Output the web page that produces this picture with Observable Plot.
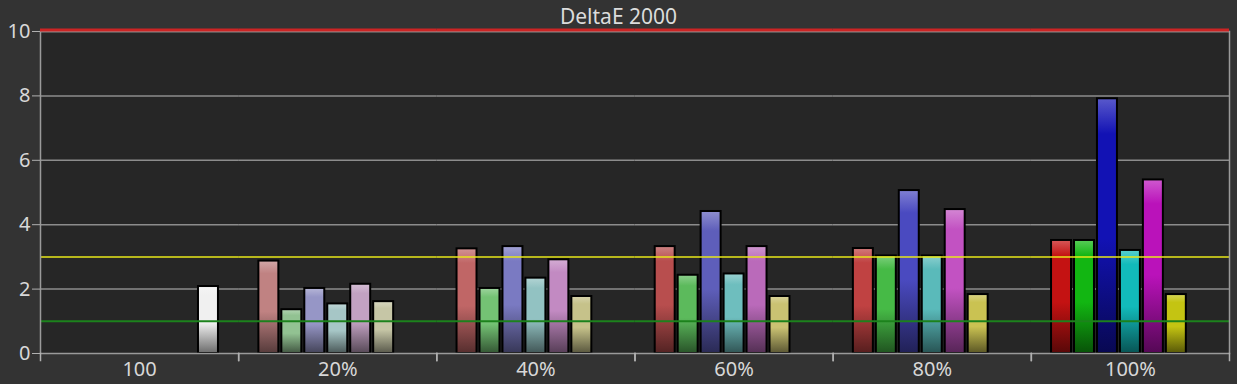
<!DOCTYPE html>
<html>
<head>
<meta charset="utf-8">
<script src="https://cdn.jsdelivr.net/npm/d3@7"></script>
<script src="https://cdn.jsdelivr.net/npm/@observablehq/plot@0.6"></script>
<style>
  html, body { margin: 0; padding: 0; background: #333333; }
  #wrap { position: relative; width: 1237px; height: 384px; }
  #title { position: absolute; left: 0; top: 0; width: 1237px; height: 32px; line-height: 32px;
           text-align: center; color: #dcdcdc; z-index: 2;
           font-family: "Noto Sans", "Open Sans", sans-serif; font-size: 21px; }
  #chart svg { display: block; }
</style>
</head>
<body>
<div id="wrap">
<div id="title">DeltaE 2000</div>
<div id="chart"></div>
</div>
<script>
// ---- data ----
const groups = ["100", "20%", "40%", "60%", "80%", "100%"];
const seriesNames = ["Red", "Green", "Blue", "Cyan", "Magenta", "Yellow", "White"];
const redValues     = [null, 2.87, 3.25, 3.32, 3.26, 3.51];
const greenValues   = [null, 1.36, 2.02, 2.43, 3.03, 3.51];
const blueValues    = [null, 2.02, 3.32, 4.41, 5.06, 7.91];
const cyanValues    = [null, 1.54, 2.34, 2.47, 3.03, 3.20];
const magentaValues = [null, 2.15, 2.91, 3.32, 4.47, 5.39];
const yellowValues  = [null, 1.61, 1.77, 1.77, 1.83, 1.83];
const whiteValues   = [2.08, null, null, null, null, null];
const yTicks = [0, 2, 4, 6, 8, 10];
const thresholds = { max: 10, warn: 3, good: 1 };

// ---- palette (base colour of each bar, per group) ----
const redColors     = [null, "#c08282", "#c06666", "#b84e4e", "#c04242", "#c41212"];
const greenColors   = [null, "#92c292", "#74c274", "#5cba5c", "#46ba46", "#12b612"];
const blueColors    = [null, "#9696c6", "#7a7ac2", "#5e5eba", "#4a4ac0", "#1212b4"];
const cyanColors    = [null, "#a6c6c6", "#92c2c2", "#6ebebe", "#5ababa", "#12baba"];
const magentaColors = [null, "#c2a2c2", "#c28ac2", "#ba6aba", "#c252c2", "#ba12ba"];
const yellowColors  = [null, "#c6c6a6", "#c6c28a", "#cac272", "#cac252", "#c4c412"];
const whiteColors   = ["#f0f0f0", null, null, null, null, null];

const valueArrays = [redValues, greenValues, blueValues, cyanValues, magentaValues, yellowValues, whiteValues];
const colorArrays = [redColors, greenColors, blueColors, cyanColors, magentaColors, yellowColors, whiteColors];

const data = [];
groups.forEach((g, gi) => {
  seriesNames.forEach((s, si) => {
    const v = valueArrays[si][gi];
    if (v != null) data.push({group: g, series: s, value: v, base: colorArrays[si][gi], id: `grad${gi}_${si}`});
  });
});

const chart = Plot.plot({
  width: 1237,
  height: 384,
  marginTop: 31,
  marginBottom: 31,
  marginLeft: 40,
  marginRight: 8,
  style: {background: "#333333", color: "#d8d8d8", fontFamily: "'Noto Sans', 'Open Sans', sans-serif", fontSize: "20px"},
  fx: {domain: groups, padding: 0, round: false, axis: null},
  x: {domain: seriesNames, paddingInner: 0.13, paddingOuter: 0.88, round: false, axis: null},
  y: {domain: [0, 10], axis: null},
  color: {type: "identity"},
  marks: [
    Plot.frame({facet: "super", fill: "#262626", stroke: null}),
    Plot.ruleY(yTicks.filter(t => t > 0), {stroke: "#8c8c8c", strokeWidth: 1.5}),
    Plot.barY(data, {fx: "group", x: "series", y: "value", fill: d => `url(#${d.id})`, stroke: "#000", strokeWidth: 2}),
    Plot.ruleY([thresholds.good], {stroke: "#1c821c", strokeWidth: 2}),
    Plot.ruleY([thresholds.warn], {stroke: "#e8e81a", strokeWidth: 1.5}),
    Plot.frame({facet: "super", stroke: "#9a9a9a", strokeWidth: 1.5, fill: null}),
    Plot.ruleY([thresholds.max], {stroke: "#cc2424", strokeWidth: 3, dy: -1.5}),
    Plot.frame({anchor: "left", stroke: "#b0b0b0", strokeWidth: 1.5, insetTop: 322, insetBottom: -7}),
    Plot.frame({anchor: "right", stroke: "#b0b0b0", strokeWidth: 1.5, insetTop: 322, insetBottom: -7}),
    Plot.axisY({ticks: yTicks, tickSize: 8, tickPadding: 2, label: null, stroke: "#b0b0b0", fill: "#d8d8d8", fontSize: 20}),
    Plot.axisFx({anchor: "bottom", tickSize: 0, tickPadding: 8, label: null, fill: "#d8d8d8", fontSize: 20})
  ]
});

// vertical gradients for the bars
const defs = d3.select(chart).insert("defs", ":first-child");
data.forEach(d => {
  const lg = defs.append("linearGradient").attr("id", d.id).attr("x1", 0).attr("y1", 0).attr("x2", 0).attr("y2", 1);
  lg.append("stop").attr("offset", "0%").attr("stop-color", d3.interpolateRgb(d.base, "#ffffff")(0.3));
  lg.append("stop").attr("offset", "14%").attr("stop-color", d.base);
  lg.append("stop").attr("offset", "55%").attr("stop-color", d.base);
  lg.append("stop").attr("offset", "100%").attr("stop-color", d3.interpolateRgb(d.base, "#000000")(0.55));
});

document.getElementById("chart").appendChild(chart);
</script>
</body>
</html>
